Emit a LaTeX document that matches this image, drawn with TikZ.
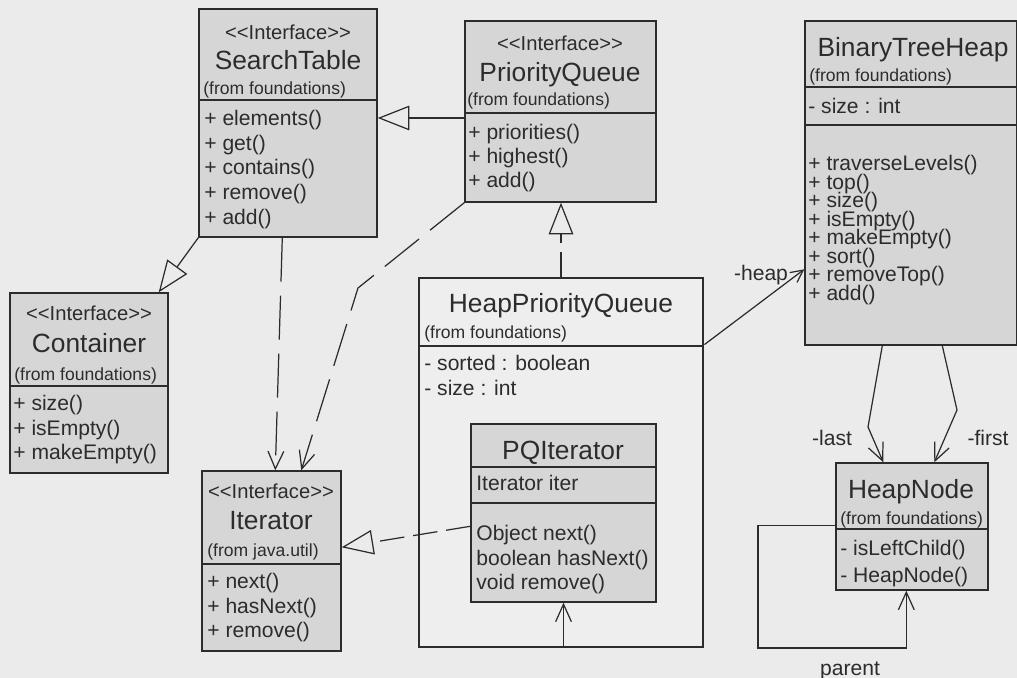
\documentclass[tikz,border=0pt]{standalone}
\usepackage{fontspec}
\setsansfont{Liberation Sans}
\usetikzlibrary{arrows.meta,calc,fit}
\definecolor{paper}{HTML}{EBEBEB}
\definecolor{boxfill}{HTML}{D6D6D6}
\definecolor{hpqfill}{HTML}{EEEEEE}
\definecolor{inkcol}{HTML}{2C2C2C}
% keep the angle brackets apart so they are not turned into guillemets
\newcommand{\umlstereo}[1]{<\kern0pt<#1>\kern0pt>}

\begin{document}
\begin{tikzpicture}[x=0.02cm, y=-0.02cm, font=\sffamily, inkcol,
  classbox/.style={draw=inkcol, fill=boxfill, line width=0.8pt, inner sep=0pt},
  stereo/.style={font=\sffamily\fontsize{11.5}{12}\selectfont, inner sep=0pt, text height=8pt, text depth=0pt},
  ctitle/.style={font=\sffamily\fontsize{15}{16}\selectfont, inner sep=0pt, text height=10.8pt, text depth=0pt},
  origin/.style={font=\sffamily\fontsize{10}{11}\selectfont, anchor=west, inner sep=0pt, text height=7.2pt, text depth=0pt},
  member/.style={font=\sffamily\fontsize{12}{13}\selectfont, anchor=west, inner sep=0pt, text height=8.6pt, text depth=0pt},
  rolelbl/.style={font=\sffamily\fontsize{12}{13}\selectfont, inner sep=0pt, text height=8.6pt, text depth=0pt},
  gen/.style={line width=0.7pt, -{Triangle[open, length=18pt, width=14pt]}},
  real/.style={gen, dash pattern=on 14pt off 5pt},
  dep/.style={line width=0.7pt, dash pattern=on 25pt off 8pt, -{Straight Barb[length=10pt, width=9pt]}},
  assoc/.style={line width=0.7pt, -{Straight Barb[length=10pt, width=9pt]}}]
\useasboundingbox (0,0) rectangle (1017,678);
\fill[paper] (0,0) rectangle (1017,678);

% SearchTable interface
\node[classbox, fit={(199,9) (377,237)}] (st) {};
\draw[line width=0.8pt] (199,100) -- (377,100);
\node[stereo] (st-s) at (288,32) {\umlstereo{Interface}};
\node[ctitle] (st-t) at (288,60) {SearchTable};
\node[origin] (st-f) at (203,88) {(from foundations)};
\foreach \i/\txt in {0/+ elements(), 1/+ get(), 2/+ contains(), 3/+ remove(), 4/+ add()}{
  \node[member] (st-m\i) at (204,118+24.7*\i) {\txt};
}

% PriorityQueue interface
\node[classbox, fit={(465,21) (656,202)}] (pq) {};
\draw[line width=0.8pt] (465,113) -- (656,113);
\node[stereo] (pq-s) at (560,43) {\umlstereo{Interface}};
\node[ctitle] (pq-t) at (560,72) {PriorityQueue};
\node[origin] (pq-f) at (467,99) {(from foundations)};
\foreach \i/\txt in {0/+ priorities(), 1/+ highest(), 2/+ add()}{
  \node[member] (pq-m\i) at (468,132+24*\i) {\txt};
}

% BinaryTreeHeap class
\node[classbox, fit={(805,21) (1017,345)}] (bth) {};
\draw[line width=0.8pt] (805,87) -- (1017,87);
\draw[line width=0.8pt] (805,125) -- (1017,125);
\node[ctitle] (bth-t) at (913,47) {BinaryTreeHeap};
\node[origin] (bth-f) at (809,75) {(from foundations)};
\node[member] (bth-a0) at (808,106) {- size : int};
\foreach \i/\txt in {0/+ traverseLevels(), 1/+ top(), 2/+ size(), 3/+ isEmpty(),
    4/+ makeEmpty(), 5/+ sort(), 6/+ removeTop(), 7/+ add()}{
  \node[member] (bth-m\i) at (808,163+18.5*\i) {\txt};
}

% Container interface
\node[classbox, fit={(10,293) (168,473)}] (con) {};
\draw[line width=0.8pt] (10,386) -- (168,386);
\node[stereo] (con-s) at (89,313) {\umlstereo{Interface}};
\node[ctitle] (con-t) at (89,343) {Container};
\node[origin] (con-f) at (14,374) {(from foundations)};
\foreach \i/\txt in {0/+ size(), 1/+ isEmpty(), 2/+ makeEmpty()}{
  \node[member] (con-m\i) at (13,403+24.5*\i) {\txt};
}

% Iterator interface
\node[classbox, fit={(202,471) (341,651)}] (it) {};
\draw[line width=0.8pt] (202,564) -- (341,564);
\node[stereo] (it-s) at (271,491) {\umlstereo{Interface}};
\node[ctitle] (it-t) at (271,520) {Iterator};
\node[origin] (it-f) at (207,550) {(from java.util)};
\foreach \i/\txt in {0/+ next(), 1/+ hasNext(), 2/+ remove()}{
  \node[member] (it-m\i) at (207,581+24.5*\i) {\txt};
}

% HeapPriorityQueue with inner PQIterator
\node[classbox, fill=hpqfill, line width=1.6pt, fit={(419,278) (703,647)}] (hpq) {};
\draw[line width=0.8pt] (419,346) -- (703,346);
\node[ctitle] (hpq-t) at (561,303) {HeapPriorityQueue};
\node[origin] (hpq-f) at (424,332) {(from foundations)};
\foreach \i/\txt in {0/- sorted : boolean, 1/- size : int}{
  \node[member] (hpq-a\i) at (424,363+25*\i) {\txt};
}
\node[classbox, fit={(471,424) (656,602)}] (pqi) {};
\draw[line width=0.8pt] (471,467) -- (656,467);
\draw[line width=0.8pt] (471,503) -- (656,503);
\node[ctitle] (pqi-t) at (563,450) {PQIterator};
\node[member] (pqi-a0) at (476,483) {Iterator iter};
\foreach \i/\txt in {0/Object next(), 1/boolean hasNext(), 2/void remove()}{
  \node[member] (pqi-m\i) at (476,533+24.5*\i) {\txt};
}

% HeapNode class
\node[classbox, fit={(836,463) (988,590)}] (hn) {};
\draw[line width=0.8pt] (836,529) -- (988,529);
\node[ctitle] (hn-t) at (911,489) {HeapNode};
\node[origin] (hn-f) at (840,518) {(from foundations)};
\foreach \i/\txt in {0/- isLeftChild(), 1/- HeapNode()}{
  \node[member] (hn-m\i) at (840,548+27*\i) {\txt};
}

% generalisation and realisation
\draw[gen] (pq.west |- st-m0) -- (st.east |- st-m0);
\draw[gen] (st.south west) -- ($(con.north east)+(-10,0)$);
\draw[real] (hpq.north) -- (hpq.north |- pq.south);
\draw[real] ($(pqi.north west)+(0,103)$) -- ($(it.north east)+(0,77)$);

% dependencies on Iterator
\draw[dep] ($(st.south west)+(84,0)$) -- ($(it.north west)+(74,0)$);
\coordinate (pqbend) at (358,288);
\draw[dep] (pq.south west) -- (pqbend) -- ($(it.north west)+(100,0)$);

% associations
\draw[assoc, -{Straight Barb[length=7pt, width=7pt]}] ($(hpq.north east)+(0,68)$) -- ($(bth.north west)+(0,249)$);
\node[rolelbl] (heap-l) at (761,273) {-heap};
\draw[assoc] (pqi.south |- hpq.south) -- (pqi.south);
\coordinate (lastbend) at (868,427);
\coordinate (firstbend) at (957,410);
\draw[assoc] ($(bth.south west)+(78,0)$) -- (lastbend) -- ($(hn.north west)+(48,0)$);
\draw[assoc] ($(bth.south west)+(138,0)$) -- (firstbend) -- ($(hn.north west)+(99,0)$);
\node[rolelbl] (last-l) at (832,438) {-last};
\node[rolelbl] (first-l) at (988,438) {-first};
\coordinate (loopcorner) at (758,648);
\draw[assoc] ($(hn.north west)+(0,63)$) -| (loopcorner) -| ($(hn.south west)+(71,0)$);
\node[rolelbl] (parent-l) at (850,668) {parent};
\end{tikzpicture}
\end{document}
